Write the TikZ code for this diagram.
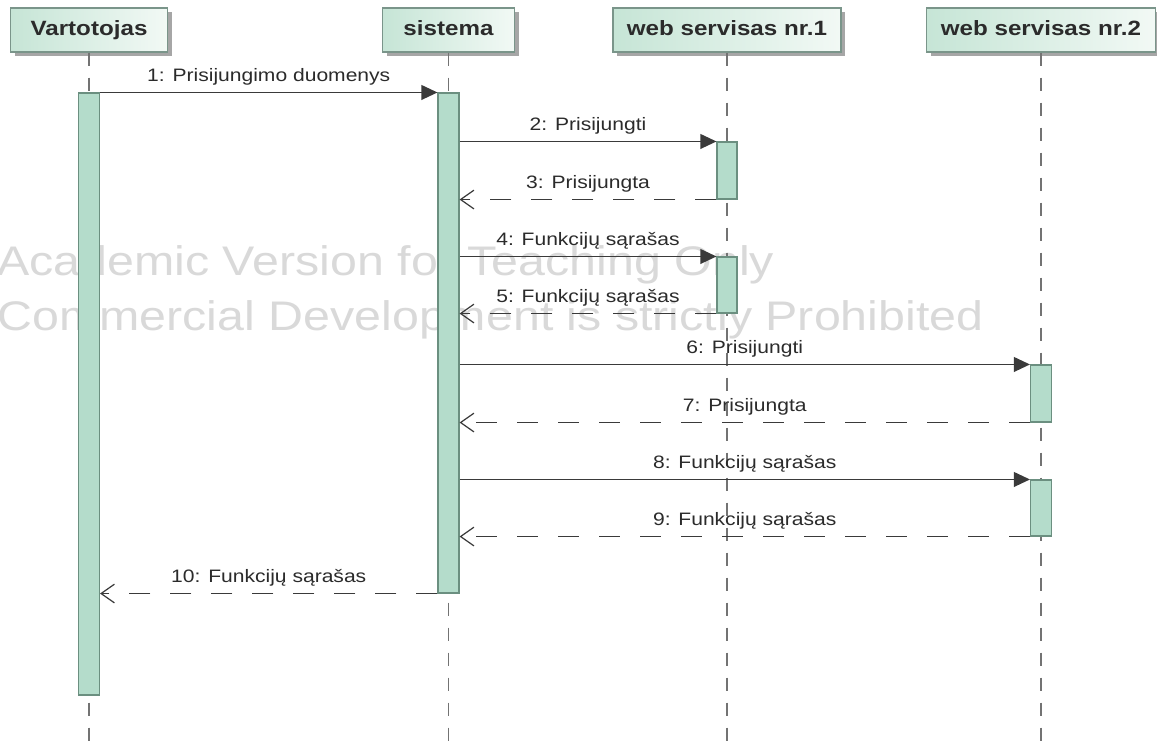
\documentclass[tikz,border=0pt]{standalone}
\usepackage{fontspec}
\setmainfont{Liberation Sans}[FakeStretch=1.17]
\usetikzlibrary{arrows.meta,shadows}
\definecolor{barfill}{HTML}{B4DCCB}
\definecolor{barline}{HTML}{6B8F80}
\definecolor{hdrL}{HTML}{C6E5D6}
\definecolor{hdrR}{HTML}{F2F9F5}
\definecolor{hdrline}{HTML}{7A958A}
\definecolor{msg}{HTML}{3A3A3A}
\definecolor{txt}{HTML}{2B2B2B}
\definecolor{wm}{HTML}{D9D9D9}
\begin{document}
\begin{tikzpicture}[x=0.75pt,y=-0.75pt,
 hdr/.style={draw=hdrline, line width=0.8pt, left color=hdrL, right color=hdrR, minimum height=33pt, inner sep=0pt, text height=11.5pt, text depth=3.5pt, font=\fontsize{15.5}{18}\selectfont\bfseries, text=txt, drop shadow={shadow xshift=3pt, shadow yshift=-3pt, fill=black!35, opacity=1}},
 bar/.style={draw=barline, line width=0.8pt, fill=barfill, inner sep=0pt, minimum width=15.75pt},
 life/.style={draw=black!55, line width=0.8pt, dash pattern=on 9.75pt off 9pt},
 call/.style={draw=msg, line width=1.2pt, -{Triangle[length=12pt,width=11pt]}},
 ret/.style={draw=msg, line width=0.9pt, dash pattern=on 15.75pt off 15pt, -{Straight Barb[length=10pt,width=14pt]}},
 lbl/.style={anchor=base, yshift=8.25pt, font=\fontsize{13.5}{16}\selectfont, text=txt, inner sep=0pt},
 wmk/.style={anchor=base west, text=wm, font=\fontsize{31}{36}\selectfont, inner sep=0pt}]
\useasboundingbox (0,0) rectangle (1157,742);
\fill[white] (0,0) rectangle (1157,742);
% watermark
\node[wmk] (wm1) at (-3,275) {Academic Version for Teaching Only};
\node[wmk] (wm2) at (-3,330) {Commercial Development is strictly Prohibited};
% headers
\node[hdr, minimum width=117.75pt] (hv) at (89,30) {Vartotojas};
\node[hdr, minimum width=99pt] (hs) at (448.5,30) {sistema};
\node[hdr, minimum width=171pt] (h1) at (727,30) {web servisas nr.1};
\node[hdr, minimum width=171.75pt] (h2) at (1041,30) {web servisas nr.2};
% lifeline ends
\coordinate (ev) at (89,742);
\coordinate (es) at (448.5,742);
\coordinate (e1) at (727,742);
\coordinate (e2) at (1041,742);
\draw[life] (hv.south) -- (ev);
\draw[life] (hs.south) -- (es);
\draw[life] (h1.south) -- (e1);
\draw[life] (h2.south) -- (e2);
% activation bars
\node[bar, minimum height=451.5pt] (bv) at (89,394) {};
\node[bar, minimum height=375pt] (bs) at (448.5,343) {};
\node[bar, minimum width=15pt, minimum height=42.75pt] (w1a) at (727,170.5) {};
\node[bar, minimum width=15pt, minimum height=42pt] (w1b) at (727,285) {};
\node[bar, minimum height=42.75pt] (w2a) at (1041,393.5) {};
\node[bar, minimum height=42pt] (w2b) at (1041,508) {};
% messages
\draw[call] (bv.north east) -- node[lbl]{1: Prisijungimo duomenys} (bs.north west);
\draw[call] (bs.east |- w1a.north) -- node[lbl]{2: Prisijungti} (w1a.north west);
\draw[ret] (w1a.south west) -- node[lbl]{3: Prisijungta} (bs.east |- w1a.south);
\draw[call] (bs.east |- w1b.north) -- node[lbl]{4: Funkcijų sąrašas} (w1b.north west);
\draw[ret] (w1b.south west) -- node[lbl]{5: Funkcijų sąrašas} (bs.east |- w1b.south);
\draw[call] (bs.east |- w2a.north) -- node[lbl]{6: Prisijungti} (w2a.north west);
\draw[ret] (w2a.south west) -- node[lbl]{7: Prisijungta} (bs.east |- w2a.south);
\draw[call] (bs.east |- w2b.north) -- node[lbl]{8: Funkcijų sąrašas} (w2b.north west);
\draw[ret] (w2b.south west) -- node[lbl]{9: Funkcijų sąrašas} (bs.east |- w2b.south);
\draw[ret] (bs.south west) -- node[lbl]{10: Funkcijų sąrašas} (bv.east |- bs.south);
\end{tikzpicture}
\end{document}
